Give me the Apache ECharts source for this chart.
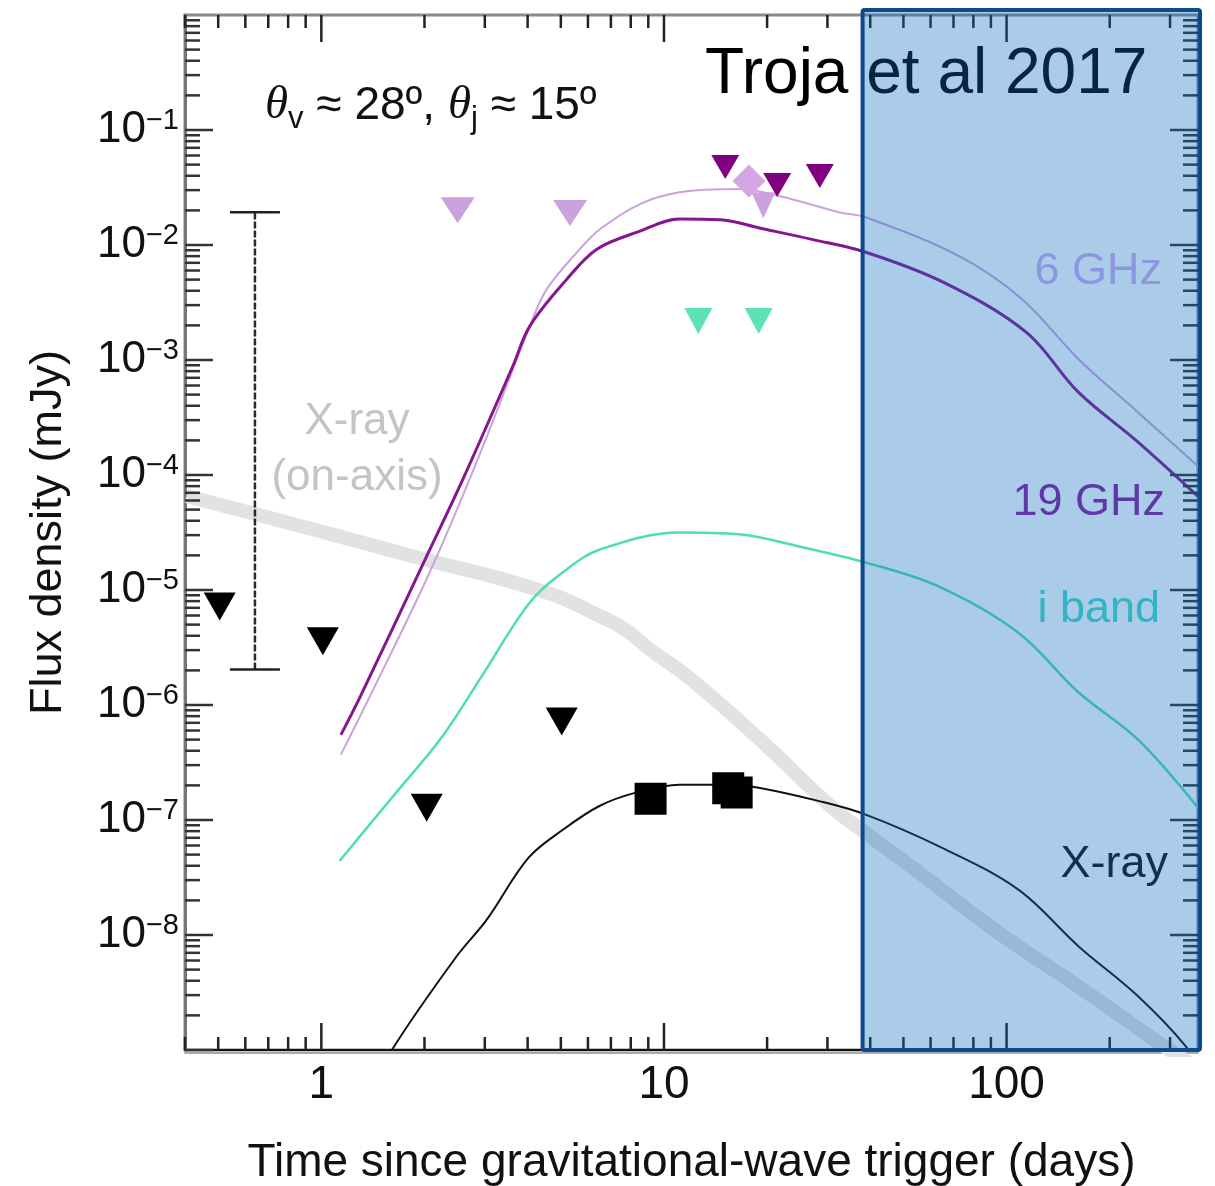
<!DOCTYPE html>
<html><head><meta charset="utf-8">
<script src="https://cdn.jsdelivr.net/npm/echarts@6/dist/echarts.min.js"></script>
<style>html,body{margin:0;padding:0;background:#fff}#c{width:1215px;height:1186px}</style>
</head><body><div id="c"></div>
<script>
const FONT = '"Liberation Sans", Arial, Helvetica, sans-serif';

// axis ranges
const xRange = [0.4, 362];
const yRange = [1e-9, 1];

// model curves [days, mJy]
const ghz6Model = [[1.14,3.7e-7],[1.386,1.19e-6],[2.07,1.42e-5],[2.90,1.51e-4],[4.06,1.97e-3],[4.55,4.13e-3],[5.68,9.2e-3],[6.50,1.37e-2],[8.51,2.27e-2],[11.1,2.88e-2],[16.6,3.07e-2],[21.7,2.67e-2],[32.4,1.93e-2],[38.6,1.75e-2],[72.7,8.0e-3],[111,3.38e-3],[162,1.02e-3],[242,3.5e-4],[362,1.19e-4]];
const ghz19Model = [[1.14,5.5e-7],[1.30,1.19e-6],[2.03,1.97e-5],[2.59,9.2e-5],[3.62,8.8e-4],[4.06,1.97e-3],[5.21,5.05e-3],[6.37,9.2e-3],[8.51,1.32e-2],[11.1,1.68e-2],[14.6,1.66e-2],[19.1,1.40e-2],[27.0,1.12e-2],[38.6,8.7e-3],[65.3,4.75e-3],[114,1.75e-3],[162,5.25e-4],[242,1.93e-4],[362,6.5e-5]];
const iBandModel = [[1.13,4.4e-8],[1.62,1.61e-7],[2.22,5.0e-7],[2.90,1.67e-6],[4.06,7.8e-6],[5.20,1.51e-5],[6.50,2.25e-5],[11.1,3.17e-5],[16.6,3.05e-5],[24.8,2.39e-5],[38.6,1.74e-5],[63.5,1.07e-5],[108,4.27e-6],[162,1.29e-6],[242,5.0e-7],[362,1.28e-7]];
const xrayModel = [[1.55,7.0e-10],[1.62,1.04e-9],[2.48,6.5e-9],[3.04,1.36e-8],[4.02,4.68e-8],[5.08,8.26e-8],[6.50,1.33e-7],[8.28,1.73e-7],[11.1,2.03e-7],[15.7,2.03e-7],[18.9,1.91e-7],[28.4,1.46e-7],[38.6,1.12e-7],[63.5,5.9e-8],[108,2.49e-8],[162,8.0e-9],[242,2.93e-9],[334,1.07e-9],[360,7.0e-10]];
const xrayOnAxis = [[0.404,6.56e-5],[0.675,4.40e-5],[1.85,1.97e-5],[4.55,9.5e-6],[6.50,5.93e-6],[7.69,4.54e-6],[9.10,3.04e-6],[12.0,1.67e-6],[20.0,4.38e-7],[30.7,1.31e-7],[38.6,7.8e-8],[55.6,3.48e-8],[94.5,1.05e-8],[162,3.57e-9],[262,1.31e-9],[362,6.8e-10]];

// observations
const ghz6Limits = [[2.50,2.01e-2],[5.32,1.90e-2],[19.5,2.22e-2]];
const ghz6Detections = [[17.7,3.6e-2]];
const ghz19Limits = [[15.1,4.76e-2],[21.4,3.32e-2],[28.5,3.98e-2]];
const iBandLimits = [[12.6,2.18e-3],[18.9,2.18e-3]];
const xrayLimits = [[0.505,7.2e-6],[1.01,3.59e-6],[2.03,1.28e-7],[5.03,7.2e-7]];
const xrayDetections = [[9.14,1.53e-7],[15.4,1.89e-7],[16.3,1.73e-7]];
const errorBar = [[0.64, 2.04e-6, 1.93e-2]];

const boxStart = 38; // shaded region start (days)

// tick values (decades and 2..9 sub-decades)
const xTicks = [];
for (let e = -1; e <= 2; e++) for (let m = 1; m <= 9; m++) { const v = m * Math.pow(10, e); if (v >= xRange[0] && v <= xRange[1]) xTicks.push([v, yRange[0], m === 1 ? 27 : 13]); }
const yTicks = [];
for (let e = -9; e <= -1; e++) for (let m = 1; m <= 9; m++) { const v = m * Math.pow(10, e); if (v >= yRange[0] && v <= yRange[1]) yTicks.push([xRange[0], v, m === 1 ? 28 : 15]); }

const C6 = '#c9a2de', C19 = '#86168e', CI = '#4fdcb6';

const chart = echarts.init(document.getElementById('c'));
const grid = {left: 185, top: 15, width: 1013, height: 1035};

function isDecade(v) { const l = Math.log10(v); return Math.abs(l - Math.round(l)) < 1e-6; }

const option = {
  animation: false,
  backgroundColor: '#fff',
  grid: Object.assign({show: true, borderColor: '#8a8a8a', borderWidth: 3, backgroundColor: 'transparent',
    containLabel: false, outerBoundsMode: 'none'}, grid),
  xAxis: {
    type: 'log', min: xRange[0], max: xRange[1], logBase: 10,
    name: 'Time since gravitational-wave trigger (days)', nameLocation: 'middle', nameGap: 90,
    nameTextStyle: {fontFamily: FONT, fontSize: 46, color: '#111'},
    axisLine: {show: true, lineStyle: {color: '#111', width: 2, shadowColor: '#aaa', shadowOffsetY: 3, shadowBlur: 0}},
    axisTick: {show: false}, splitLine: {show: false}, minorTick: {show: false},
    axisLabel: {margin: 12, fontFamily: FONT, fontSize: 46, color: '#111',
      formatter: v => isDecade(v) ? String(Math.round(v)) : ''}
  },
  yAxis: {
    type: 'log', min: yRange[0], max: yRange[1], logBase: 10,
    name: 'Flux density (mJy)', nameLocation: 'middle', nameGap: 114, nameRotate: 90,
    nameTextStyle: {fontFamily: FONT, fontSize: 45, color: '#111'},
    axisLine: {show: true, lineStyle: {color: '#777', width: 3}},
    axisTick: {show: false}, splitLine: {show: false}, minorTick: {show: false},
    axisLabel: {margin: 6, color: '#111',
      formatter: v => {
        if (!isDecade(v)) return '';
        const e = Math.round(Math.log10(v));
        if (e >= 0 || e <= -9) return '';
        return '{b|10}{s|\u2212' + (-e) + '}';
      },
      rich: {
        b: {fontFamily: FONT, fontSize: 44, color: '#111', lineHeight: 48},
        s: {fontFamily: FONT, fontSize: 29, color: '#111', lineHeight: 29, verticalAlign: 'top'}
      }
    }
  },
  series: [
    {type: 'line', name: 'X-ray on-axis', data: xrayOnAxis, showSymbol: false, smooth: 0.5, z: 1,
      lineStyle: {color: '#e2e2e2', width: 14, cap: 'butt'}},
    {type: 'line', name: '6 GHz model', data: ghz6Model, showSymbol: false, smooth: 0.35, z: 2,
      lineStyle: {color: C6, width: 2}},
    {type: 'line', name: '19 GHz model', data: ghz19Model, showSymbol: false, smooth: 0.35, z: 2,
      lineStyle: {color: C19, width: 3}},
    {type: 'line', name: 'i band model', data: iBandModel, showSymbol: false, smooth: 0.35, z: 2,
      lineStyle: {color: CI, width: 2.5}},
    {type: 'line', name: 'X-ray model', data: xrayModel, showSymbol: false, smooth: 0.35, z: 2,
      lineStyle: {color: '#111', width: 2}},
    {type: 'custom', name: 'error bar', data: errorBar, z: 3, clip: false,
      encode: {x: 0, y: [1, 2]},
      renderItem: (params, api) => {
        const lo = api.coord([api.value(0), api.value(1)]);
        const hi = api.coord([api.value(0), api.value(2)]);
        const st = {stroke: '#2a2a2a', lineWidth: 2.5, lineDash: [7, 2]};
        const cap = {stroke: '#222', lineWidth: 2.5};
        return {type: 'group', children: [
          {type: 'line', shape: {x1: lo[0], y1: lo[1], x2: hi[0], y2: hi[1]}, style: st},
          {type: 'line', shape: {x1: lo[0] - 25, y1: lo[1], x2: lo[0] + 25, y2: lo[1]}, style: cap},
          {type: 'line', shape: {x1: hi[0] - 25, y1: hi[1], x2: hi[0] + 25, y2: hi[1]}, style: cap}
        ]};
      }},
    {type: 'scatter', name: '6 GHz limits', data: ghz6Limits, symbol: 'triangle', symbolRotate: 180, z: 4,
      symbolSize: (v, p) => p.dataIndex === 2 ? [24, 26] : [34, 26], itemStyle: {color: C6, opacity: 1}},
    {type: 'scatter', name: '6 GHz detections', data: ghz6Detections, symbol: 'diamond', symbolSize: [33, 33], z: 5,
      itemStyle: {color: '#d4a6e4', opacity: 1}},
    {type: 'scatter', name: '19 GHz limits', data: ghz19Limits, symbol: 'triangle', symbolRotate: 180, z: 6,
      symbolSize: [28, 24], itemStyle: {color: '#800080', opacity: 1}},
    {type: 'scatter', name: 'i band limits', data: iBandLimits, symbol: 'triangle', symbolRotate: 180, z: 4,
      symbolSize: [28, 26], itemStyle: {color: '#5ce2b6', opacity: 1}},
    {type: 'scatter', name: 'X-ray limits', data: xrayLimits, symbol: 'triangle', symbolRotate: 180, z: 4,
      symbolSize: [32, 28], itemStyle: {color: '#000', opacity: 1}},
    {type: 'scatter', name: 'X-ray detections', data: xrayDetections, symbol: 'rect', symbolSize: 32, z: 4,
      itemStyle: {color: '#000', opacity: 1}},
    {type: 'custom', name: 'x ticks', data: xTicks, z: 8, clip: false, silent: true,
      encode: {x: 0, y: 1},
      renderItem: (params, api) => {
        const cs = params.coordSys;
        const x = api.coord([api.value(0), yRange[0]])[0];
        const len = api.value(2);
        const st = {stroke: '#222', lineWidth: 2.5};
        return {type: 'group', children: [
          {type: 'line', shape: {x1: x, y1: cs.y + cs.height, x2: x, y2: cs.y + cs.height - len}, style: st},
          {type: 'line', shape: {x1: x, y1: cs.y, x2: x, y2: cs.y + len}, style: st}
        ]};
      }},
    {type: 'custom', name: 'y ticks', data: yTicks, z: 8, clip: false, silent: true,
      encode: {x: 0, y: 1},
      renderItem: (params, api) => {
        const cs = params.coordSys;
        const y = api.coord([xRange[0], api.value(1)])[1];
        const len = api.value(2);
        const st = {stroke: '#333', lineWidth: 2.5};
        return {type: 'group', children: [
          {type: 'line', shape: {x1: cs.x, y1: y, x2: cs.x + len, y2: y}, style: st},
          {type: 'line', shape: {x1: cs.x + cs.width, y1: y, x2: cs.x + cs.width - len, y2: y}, style: st}
        ]};
      }}
  ]
};
chart.setOption(option);

const xL = chart.convertToPixel({xAxisIndex: 0}, boxStart);
const gRight = grid.left + grid.width;
const gBottom = grid.top + grid.height;
function label(text, x, y, color, align, size) {
  return {type: 'text', x: x, y: y, z: 50, silent: true,
    style: {text: text, fill: color, font: (size || 45) + 'px ' + FONT, align: align || 'right', verticalAlign: 'middle'}};
}
chart.setOption({
  graphic: {elements: [
    {type: 'text', x: 265, y: 106, z: 50, silent: true,
      style: {text: '{i|\u03b8}{sub|v}{n| \u2248 28\u00ba, }{i|\u03b8}{sub|j}{n| \u2248 15\u00ba}', verticalAlign: 'middle', align: 'left',
        rich: {
          i: {font: 'italic 47px "Liberation Serif", "DejaVu Serif", serif', fill: '#111'},
          sub: {font: '31px ' + FONT, fill: '#111', verticalAlign: 'bottom', padding: [27, 0, 0, 0]},
          n: {font: '46px ' + FONT, fill: '#111'}
        }}},
    {type: 'text', x: 705, y: 75, z: 50, silent: true,
      style: {text: 'Troja et al 2017', fill: '#000', font: '64px ' + FONT, align: 'left', verticalAlign: 'middle'}},
    label('6 GHz', 1162, 272, '#d2aef4'),
    label('19 GHz', 1165, 503, '#8a1c9c'),
    label('i band', 1160, 610, '#45dac8'),
    label('X-ray', 1168, 865, '#111'),
    label('X-ray', 357, 422, '#c4c4c4', 'center', 44),
    label('(on-axis)', 357, 478, '#c4c4c4', 'center', 44),
    {type: 'rect', z: 100, silent: true,
      shape: {x: xL, y: grid.top - 5, width: gRight + 2 - xL, height: gBottom - grid.top + 5, r: 2},
      style: {fill: 'rgba(15,110,190,0.35)', stroke: '#0b4a8c', lineWidth: 4}}
  ]}
});
</script>
</body></html>
